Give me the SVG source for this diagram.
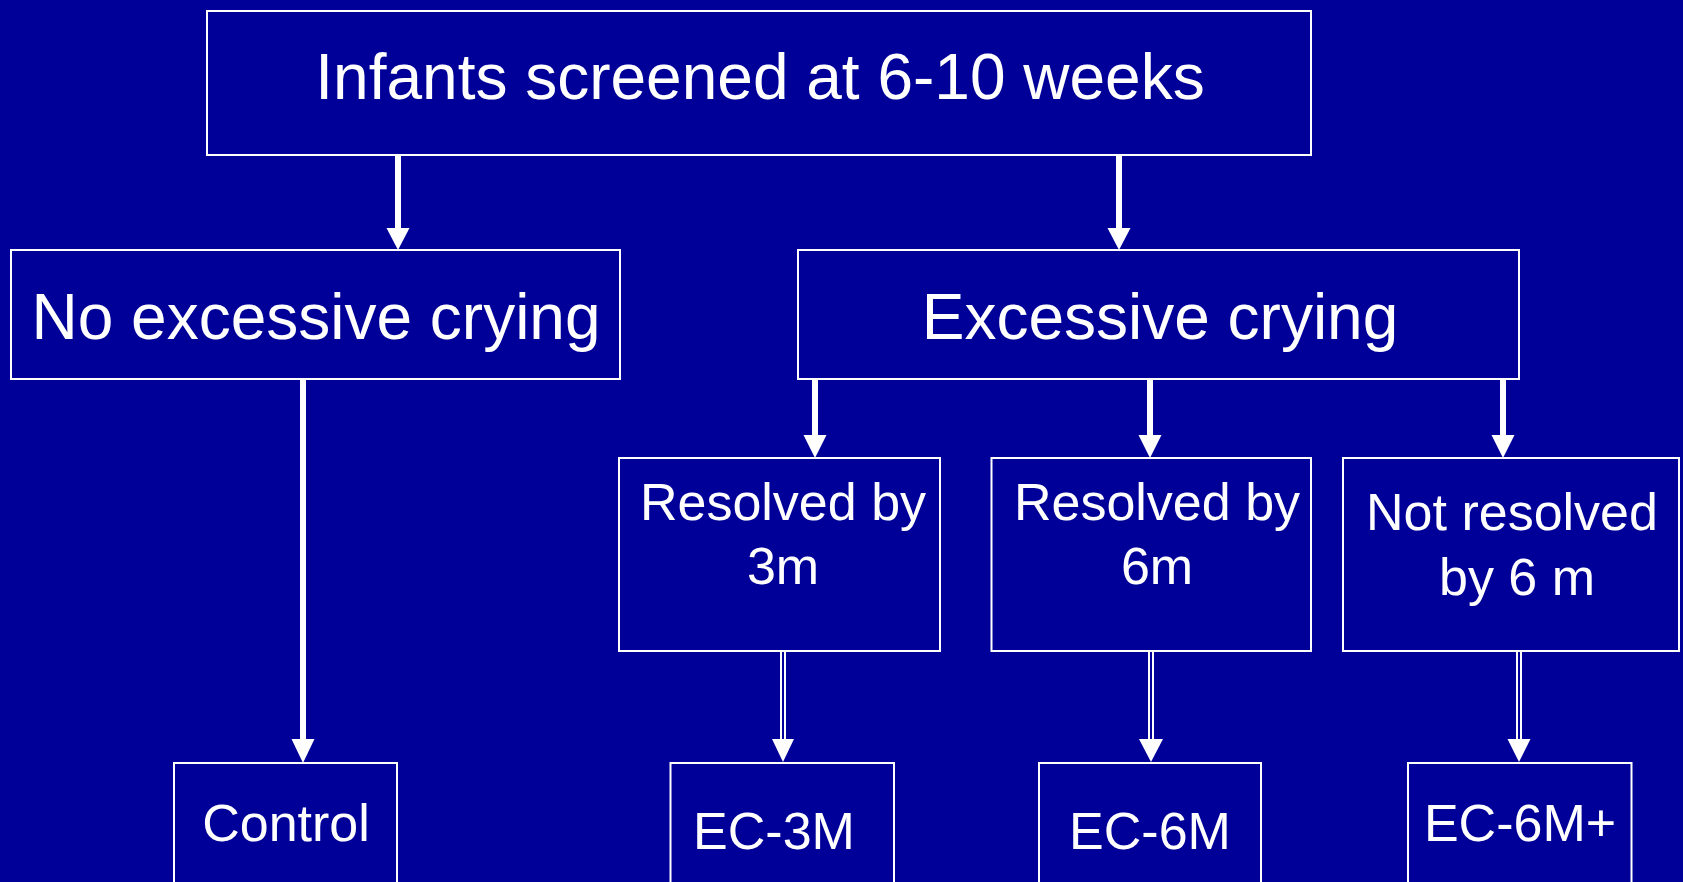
<svg xmlns="http://www.w3.org/2000/svg" width="1683" height="882" viewBox="0 0 1683 882">
<defs>
<style>
.box{fill:#000099;stroke:#ffffff;stroke-width:2}
.t{fill:#ffffff;font-family:"Liberation Sans",Arial,sans-serif;text-anchor:middle}
.big{font-size:64px}
.med{font-size:52px}
.ln{stroke:#ffffff;stroke-width:6;fill:none}
.dl{stroke:#ffffff;stroke-width:6;fill:none}
.dli{stroke:#000099;stroke-width:2;fill:none}
.ah{fill:#ffffff}
</style>
</defs>
<rect x="0" y="0" width="1683" height="882" fill="#000099"/>
<g id="connectors">
<line class="ln" x1="398" y1="156" x2="398" y2="230"/>
<polygon class="ah" points="386.5,228 409.5,228 398,250"/>
<line class="ln" x1="1119" y1="156" x2="1119" y2="230"/>
<polygon class="ah" points="1107.5,228 1130.5,228 1119,250"/>
<line class="ln" x1="303" y1="380" x2="303" y2="741"/>
<polygon class="ah" points="291.5,739 314.5,739 303,763"/>
<line class="ln" x1="815" y1="380" x2="815" y2="437"/>
<polygon class="ah" points="803.5,435 826.5,435 815,458"/>
<line class="ln" x1="1150" y1="380" x2="1150" y2="437"/>
<polygon class="ah" points="1138.5,435 1161.5,435 1150,458"/>
<line class="ln" x1="1503" y1="380" x2="1503" y2="437"/>
<polygon class="ah" points="1491.5,435 1514.5,435 1503,458"/>
<line class="dl" x1="783" y1="652" x2="783" y2="741"/>
<line class="dli" x1="783" y1="652" x2="783" y2="741"/>
<polygon class="ah" points="772,739 794,739 783,762"/>
<line class="dl" x1="1151" y1="652" x2="1151" y2="741"/>
<line class="dli" x1="1151" y1="652" x2="1151" y2="741"/>
<polygon class="ah" points="1139,739 1163,739 1151,762"/>
<line class="dl" x1="1519" y1="652" x2="1519" y2="741"/>
<line class="dli" x1="1519" y1="652" x2="1519" y2="741"/>
<polygon class="ah" points="1507.5,739 1530.5,739 1519,762"/>
</g>
<g id="n-top">
<rect class="box" x="207" y="11" width="1104" height="144"/>
<text class="t big" x="760" y="99">Infants screened at 6-10 weeks</text>
</g>
<g id="n-noec">
<rect class="box" x="11" y="250" width="609" height="129"/>
<text class="t big" x="316" y="339">No excessive crying</text>
</g>
<g id="n-ec">
<rect class="box" x="798" y="250" width="721" height="129"/>
<text class="t big" x="1160" y="339">Excessive crying</text>
</g>
<g id="n-r3">
<rect class="box" x="619" y="458" width="321" height="193"/>
<text class="t med" x="783" y="520">Resolved by</text>
<text class="t med" x="783" y="584">3m</text>
</g>
<g id="n-r6">
<rect class="box" x="991.5" y="458" width="319.5" height="193"/>
<text class="t med" x="1157" y="520">Resolved by</text>
<text class="t med" x="1157" y="584">6m</text>
</g>
<g id="n-nr">
<rect class="box" x="1343" y="458" width="336" height="193"/>
<text class="t med" x="1512" y="530">Not resolved</text>
<text class="t med" x="1517" y="595">by 6 m</text>
</g>
<g id="n-control">
<rect class="box" x="174" y="763" width="223" height="140"/>
<text class="t med" x="286" y="841">Control</text>
</g>
<g id="n-ec3m">
<rect class="box" x="670.5" y="763" width="223.5" height="140"/>
<text class="t med" x="774" y="849">EC-3M</text>
</g>
<g id="n-ec6m">
<rect class="box" x="1039" y="763" width="222" height="140"/>
<text class="t med" x="1150" y="849">EC-6M</text>
</g>
<g id="n-ec6mp">
<rect class="box" x="1408" y="763" width="223.5" height="140"/>
<text class="t med" x="1520" y="841">EC-6M+</text>
</g>
</svg>
